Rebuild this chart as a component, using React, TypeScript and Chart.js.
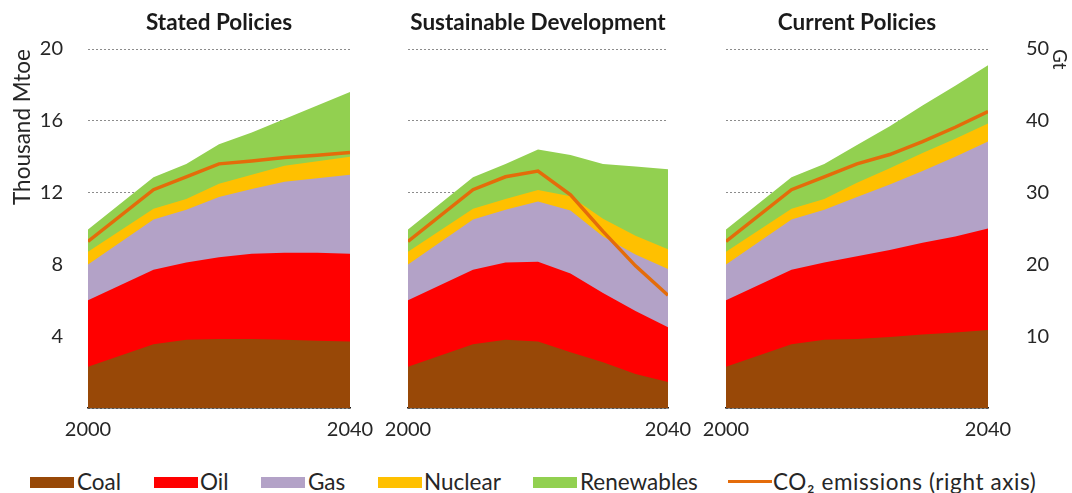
import React, { useEffect, useRef } from "react";
import { Chart, registerables } from "chart.js";

Chart.register(...registerables);

const FONT = "Lato, 'Open Sans', sans-serif";
const TEXT = "#262626";

const years = [2000, 2010, 2015, 2020, 2025, 2030, 2035, 2040];

// Stated Policies (thousand Mtoe; CO2 in Gt)
const spCoal = [2.3, 3.55, 3.8, 3.85, 3.85, 3.8, 3.75, 3.7];
const spOil = [3.7, 4.15, 4.3, 4.55, 4.75, 4.85, 4.9, 4.9];
const spGas = [2.0, 2.8, 2.95, 3.35, 3.6, 3.95, 4.15, 4.4];
const spNuclear = [0.7, 0.6, 0.6, 0.75, 0.8, 0.9, 0.95, 1.0];
const spRenewables = [1.25, 1.75, 1.95, 2.2, 2.35, 2.6, 3.1, 3.6];
const spCO2 = [23.2, 30.4, 32.2, 34.0, 34.4, 34.9, 35.2, 35.6];

// Sustainable Development
const sdCoal = [2.3, 3.55, 3.8, 3.7, 3.1, 2.55, 1.9, 1.45];
const sdOil = [3.7, 4.15, 4.3, 4.45, 4.4, 3.85, 3.5, 3.05];
const sdGas = [2.0, 2.8, 2.95, 3.35, 3.5, 3.15, 3.15, 3.25];
const sdNuclear = [0.7, 0.6, 0.6, 0.65, 0.8, 1.0, 1.05, 1.1];
const sdRenewables = [1.25, 1.75, 1.95, 2.25, 2.3, 3.05, 3.85, 4.45];
const sdCO2 = [23.2, 30.4, 32.2, 33.0, 29.7, 24.6, 19.8, 15.7];

// Current Policies
const cpCoal = [2.3, 3.55, 3.8, 3.85, 3.95, 4.1, 4.2, 4.35];
const cpOil = [3.7, 4.15, 4.3, 4.6, 4.85, 5.1, 5.35, 5.65];
const cpGas = [2.0, 2.8, 2.95, 3.3, 3.65, 4.0, 4.45, 4.85];
const cpNuclear = [0.7, 0.6, 0.6, 0.8, 0.9, 1.0, 1.0, 1.0];
const cpRenewables = [1.25, 1.75, 1.95, 2.1, 2.35, 2.65, 2.95, 3.25];
const cpCO2 = [23.2, 30.4, 32.2, 34.0, 35.3, 37.1, 39.1, 41.3];

const leftTicks = [0, 4, 8, 12, 16, 20];
const rightTicks = [0, 10, 20, 30, 40, 50];
const xTicks = [2000, 2040];

const COLORS = {
  coal: "#984807",
  oil: "#FF0000",
  gas: "#B3A2C7",
  nuclear: "#FFC000",
  renewables: "#92D050",
  co2: "#E46C0A",
};

type PanelProps = {
  title: string;
  coal: number[];
  oil: number[];
  gas: number[];
  nuclear: number[];
  renewables: number[];
  co2: number[];
  left: number;
  width: number;
  padLeft: number;
  padRight: number;
  showLeft: boolean;
  showRight: boolean;
};

const H = 450;

const zeroPad = (s: any) => {
  s.paddingLeft = 0;
  s.paddingRight = 0;
  s.paddingTop = 0;
  s.paddingBottom = 0;
};

function Panel(p: PanelProps) {
  const ref = useRef<HTMLCanvasElement>(null);
  useEffect(() => {
    const pts = (arr: number[]) => years.map((x, i) => ({ x, y: arr[i] }));
    const area = (label: string, arr: number[], color: string) => ({
      label,
      data: pts(arr),
      backgroundColor: color,
      borderColor: "rgba(0,0,0,0)",
      borderWidth: 0,
      pointRadius: 0,
      pointHoverRadius: 0,
      fill: "origin",
      tension: 0,
      yAxisID: "y",
    });
    const chart = new Chart(ref.current as HTMLCanvasElement, {
      type: "line",
      data: {
        datasets: [
          {
            label: "CO2 emissions",
            data: pts(p.co2),
            borderColor: COLORS.co2,
            backgroundColor: COLORS.co2,
            borderWidth: 3.5,
            pointRadius: 0,
            pointHoverRadius: 0,
            fill: false,
            tension: 0,
            yAxisID: "y2",
          },
          area("Coal", p.coal, COLORS.coal),
          area("Oil", p.oil, COLORS.oil),
          area("Gas", p.gas, COLORS.gas),
          area("Nuclear", p.nuclear, COLORS.nuclear),
          area("Renewables", p.renewables, COLORS.renewables),
        ] as any,
      },
      options: {
        responsive: false,
        animation: false,
        events: [],
        layout: { padding: { left: p.padLeft, right: p.padRight, top: 0, bottom: 0 } },
        plugins: {
          legend: { display: false },
          tooltip: { enabled: false },
          title: {
            display: true,
            text: p.title,
            fullSize: false,
            color: "#1a1a1a",
            font: { family: FONT, size: 22.5, weight: "bold" },
            padding: { top: 9, bottom: 13 },
          },
        },
        scales: {
          x: {
            type: "linear",
            min: 2000,
            max: 2040,
            grid: { display: false, drawTicks: false },
            border: { display: true, color: "#1a1a1a", width: 1.5 },
            ticks: {
              color: TEXT,
              font: { family: FONT, size: 20 },
              padding: 10,
              maxRotation: 0,
              autoSkip: false,
              callback: (v: any) => String(v),
            },
            afterBuildTicks: (s: any) => {
              s.ticks = xTicks.map((v) => ({ value: v }));
            },
            afterFit: (s: any) => {
              s.height = H - 408;
              zeroPad(s);
            },
          },
          y: {
            stacked: true,
            min: 0,
            max: 20,
            display: true,
            afterBuildTicks: (s: any) => {
              s.ticks = leftTicks.map((v) => ({ value: v }));
            },
            afterFit: (s: any) => {
              s.width = p.showLeft ? 88 : 0;
              zeroPad(s);
            },
            grid: { color: "#8c8c8c", lineWidth: 1, drawTicks: false },
            border: { display: false, dash: [2, 2] },
            ticks: {
              display: p.showLeft,
              color: TEXT,
              font: { family: FONT, size: 20 },
              padding: 25,
              callback: (v: any) => (v === 0 ? "" : String(v)),
            },
            title: {
              display: p.showLeft,
              text: "Thousand Mtoe",
              align: "end",
              color: TEXT,
              font: { family: FONT, size: 22.5 },
              padding: { top: 9, bottom: 0 },
            },
          },
          y2: {
            position: "right",
            min: 0,
            max: 50,
            display: p.showRight,
            afterBuildTicks: (s: any) => {
              s.ticks = rightTicks.map((v) => ({ value: v }));
            },
            afterFit: (s: any) => {
              s.width = p.showRight ? 84 : 0;
              zeroPad(s);
            },
            grid: { display: false, drawTicks: false },
            border: { display: false },
            ticks: {
              color: TEXT,
              font: { family: FONT, size: 20 },
              padding: 38,
              callback: (v: any) => (v === 0 ? "" : String(v)),
            },
            title: {
              display: true,
              text: "Gt",
              align: "end",
              color: TEXT,
              font: { family: FONT, size: 19 },
              padding: { top: 1, bottom: 0 },
            },
          },
        } as any,
      },
    });
    return () => chart.destroy();
  }, []);
  return (
    <canvas
      ref={ref}
      width={p.width}
      height={H}
      style={{ position: "absolute", left: p.left, top: 0, width: p.width, height: H }}
    />
  );
}

const legendItems = [
  { label: "Coal", color: COLORS.coal, box: 30, text: 77, line: false, ls: 0 },
  { label: "Oil", color: COLORS.oil, box: 154, text: 200, line: false, ls: 0 },
  { label: "Gas", color: COLORS.gas, box: 261, text: 308, line: false, ls: 0 },
  { label: "Nuclear", color: COLORS.nuclear, box: 378, text: 424, line: false, ls: 0 },
  { label: "Renewables", color: COLORS.renewables, box: 533, text: 580, line: false, ls: 0 },
  { label: "CO\u2082 emissions (right axis)", color: COLORS.co2, box: 728, text: 773, line: true, ls: 0.6 },
];

export default function App() {
  return (
    <div
      style={{
        position: "absolute",
        left: 0,
        top: 0,
        width: 1072,
        height: 493,
        background: "#fff",
        overflow: "hidden",
        fontFamily: FONT,
      }}
    >
      <Panel
        title="Stated Policies"
        coal={spCoal}
        oil={spOil}
        gas={spGas}
        nuclear={spNuclear}
        renewables={spRenewables}
        co2={spCO2}
        left={0}
        width={380}
        padLeft={0}
        padRight={30}
        showLeft={true}
        showRight={false}
      />
      <Panel
        title="Sustainable Development"
        coal={sdCoal}
        oil={sdOil}
        gas={sdGas}
        nuclear={sdNuclear}
        renewables={sdRenewables}
        co2={sdCO2}
        left={380}
        width={320}
        padLeft={28}
        padRight={32}
        showLeft={false}
        showRight={false}
      />
      <Panel
        title="Current Policies"
        coal={cpCoal}
        oil={cpOil}
        gas={cpGas}
        nuclear={cpNuclear}
        renewables={cpRenewables}
        co2={cpCO2}
        left={700}
        width={372}
        padLeft={26}
        padRight={0}
        showLeft={false}
        showRight={true}
      />
      {legendItems.map((it) => (
        <React.Fragment key={it.label}>
          <div
            style={{
              position: "absolute",
              left: it.box,
              top: it.line ? 480 : 477,
              width: 44,
              height: it.line ? 3 : 11,
              background: it.color,
            }}
          />
          <div
            style={{
              position: "absolute",
              left: it.text,
              top: 469,
              height: 26,
              lineHeight: "26px",
              fontSize: 22.5,
              letterSpacing: it.ls,
              color: TEXT,
              whiteSpace: "nowrap",
            }}
          >
            {it.label}
          </div>
        </React.Fragment>
      ))}
    </div>
  );
}
